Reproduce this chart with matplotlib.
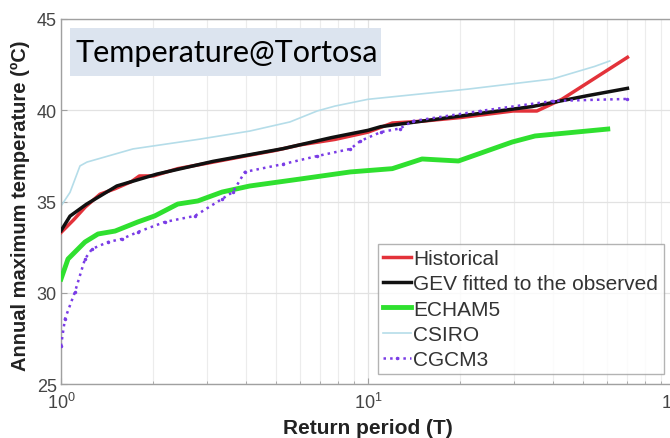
import numpy as np
import matplotlib
matplotlib.use("Agg")
import matplotlib.pyplot as plt
from matplotlib.patches import Rectangle
from matplotlib.ticker import LogLocator, NullFormatter

plt.rcParams['font.family'] = ['Liberation Sans', 'DejaVu Sans']
plt.rcParams['mathtext.default'] = 'regular'

# return periods (T) and annual maximum temperature
hist_T = [1.0, 1.1, 1.2, 1.34, 1.5, 1.7, 1.8, 2.0, 2.4, 3.0, 4.0, 5.0, 6.0, 7.8,
          10.0, 12.0, 15.0, 20.0, 29.7, 35.5, 42.8, 70.0]
hist_v = [33.3, 34.0, 34.7, 35.4, 35.7, 36.1, 36.4, 36.4, 36.8, 37.1, 37.5, 37.8, 38.1, 38.4,
          38.8, 39.3, 39.4, 39.6, 39.96, 39.96, 40.6, 42.9]

gev_T = [1.0, 1.07, 1.21, 1.52, 2.05, 3.13, 5.3, 7.6, 10.0, 11.0, 22.5, 34.2, 51.9, 70.0]
gev_v = [33.4, 34.2, 34.85, 35.85, 36.5, 37.2, 37.9, 38.5, 38.9, 39.1, 39.8, 40.2, 40.8, 41.2]

echam_T = [1.0, 1.054, 1.197, 1.32, 1.5, 1.78, 2.02, 2.4, 2.79, 3.35, 4.12, 6.0, 8.76,
           12.0, 15.0, 19.7, 29.5, 35.0, 60.4]
echam_v = [30.75, 31.85, 32.78, 33.22, 33.38, 33.88, 34.21, 34.86, 35.03, 35.52, 35.85, 36.23, 36.62,
           36.8, 37.33, 37.22, 38.26, 38.59, 38.97]

csiro_T = [1.0, 1.07, 1.153, 1.215, 1.715, 2.84, 4.12, 5.57, 6.83, 7.81, 10.0, 21.2, 39.8, 54.7, 61.3]
csiro_v = [34.75, 35.5, 36.95, 37.16, 37.88, 38.42, 38.86, 39.36, 39.96, 40.23, 40.6, 41.16, 41.71, 42.4, 42.7]

cgcm_T = [1.0, 1.03, 1.11, 1.197, 1.262, 1.423, 1.58, 1.78, 2.18, 2.73, 3.345, 3.63, 3.97,
          5.29, 6.83, 8.76, 9.45, 11.0, 12.7, 14.0, 23.2, 40.1, 70.0]
cgcm_v = [27.08, 28.56, 30.04, 31.85, 32.4, 32.78, 32.95, 33.33, 33.88, 34.21, 35.14, 35.52, 36.62,
          37.05, 37.49, 37.88, 38.32, 38.8, 39.0, 39.41, 39.96, 40.51, 40.62]

W, H = 670, 439
fig = plt.figure(figsize=(W / 100, H / 100), dpi=100)
# axes run past the right edge of the picture (cropped like the original)
ax = fig.add_axes([61 / W, (H - 385) / H, 614 / W, 365 / H])

ax.plot(hist_T, hist_v, color='#e3323a', lw=2.5, label='Historical', zorder=4)
ax.plot(gev_T, gev_v, color='#111111', lw=2.5, label='GEV fitted to the observed', zorder=5)
ax.plot(echam_T, echam_v, color='#2fe02f', lw=3.5, label='ECHAM5', zorder=3)
ax.plot(csiro_T, csiro_v, color='#b5dde9', lw=1.2, label='CSIRO', zorder=2)
ax.plot(cgcm_T, cgcm_v, color='#7a3ce6', lw=1.8, ls=':', marker='.', ms=3,
        label='CGCM3', zorder=6)

ax.set_xscale('log')
ax.set_xlim(1, 100)
ax.set_ylim(25, 45)
ax.set_yticks([25, 30, 35, 40, 45])
ax.xaxis.set_minor_locator(LogLocator(base=10, subs=np.arange(2, 10)))
ax.xaxis.set_minor_formatter(NullFormatter())
ax.grid(True, which='major', color='#e2e2e2', lw=0.9)
ax.grid(True, which='minor', axis='x', color='#ececec', lw=0.8)
ax.set_axisbelow(True)
for s in ax.spines.values():
    s.set_color('#a0a0a0')
    s.set_linewidth(1.0)
ax.tick_params(which='both', direction='in', colors='#a0a0a0', labelcolor='#444444',
               labelsize=13, length=4)
ax.tick_params(which='minor', length=2)
ax.tick_params(axis='x', pad=6)
ax.tick_params(axis='y', pad=3)

ax.set_xlabel('Return period (T)', fontsize=15, fontweight='bold', color='#222222')
ax.set_ylabel('Annual maximum temperature (ºC)', fontsize=14.5, fontweight='bold', color='#222222')
ax.xaxis.set_label_coords(0.5, -0.092)
ax.yaxis.set_label_coords(-0.05, 0.49)

leg = ax.legend(loc='upper left', bbox_to_anchor=((378 - 61) / 614, (385 - 245) / 365),
                fontsize=15, handlelength=1.35, handletextpad=0.1, labelspacing=0.3,
                borderpad=0.25, borderaxespad=0, frameon=True, fancybox=False)
leg.get_frame().set_edgecolor('#a0a0a0')
leg.get_frame().set_linewidth(1.0)
for t in leg.get_texts():
    t.set_color('#333333')

# title box
fig.add_artist(Rectangle((70 / W, (H - 77) / H), 311 / W, 48 / H, transform=fig.transFigure,
                         facecolor='#dce4ef', edgecolor='none', zorder=10))
fig.text(75 / W, (H - 53) / H, 'Temperature@Tortosa', fontsize=22, family='Lato',
         va='center', ha='left', color='black', zorder=11)

fig.savefig('out.png', dpi=100)
